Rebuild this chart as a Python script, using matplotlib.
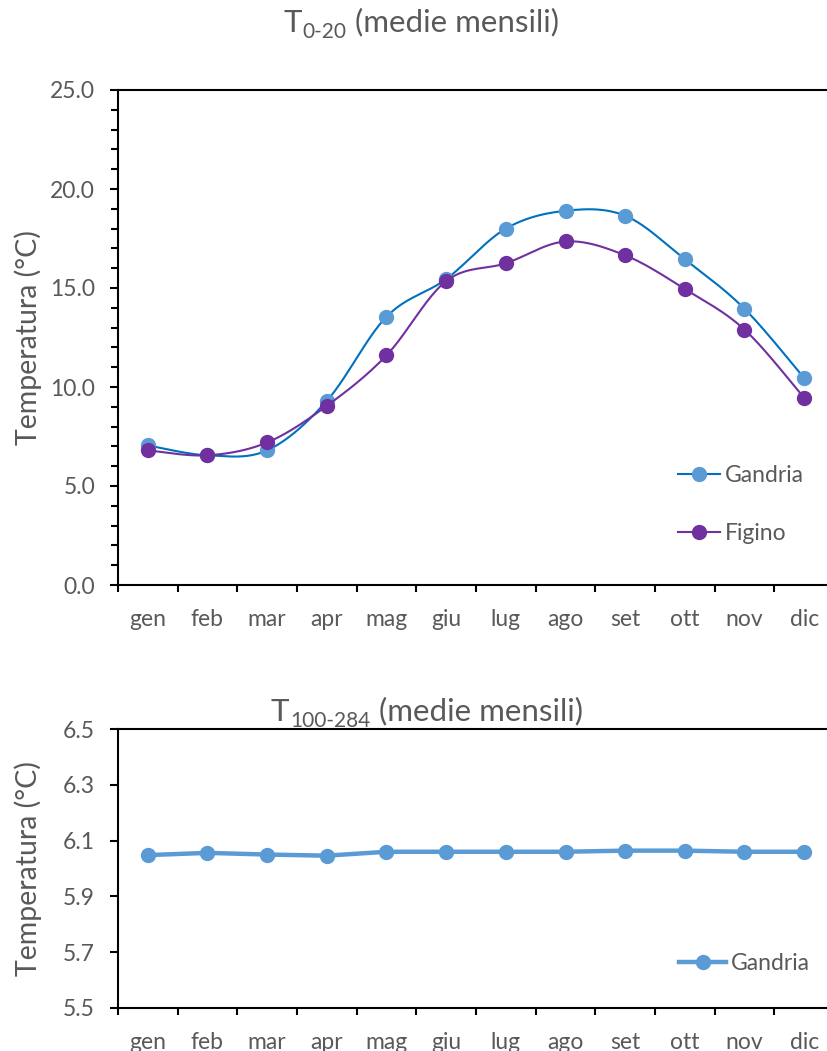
import numpy as np
import matplotlib
matplotlib.use('Agg')
import matplotlib.pyplot as plt
from matplotlib.lines import Line2D
from matplotlib.ticker import MultipleLocator, FixedLocator, NullFormatter, FormatStrFormatter

plt.rcParams['font.family'] = ['Lato', 'DejaVu Sans']

# Data (monthly means)
months = ['gen', 'feb', 'mar', 'apr', 'mag', 'giu', 'lug', 'ago', 'set', 'ott', 'nov', 'dic']
gandria_0_20 = [7.05, 6.55, 6.8, 9.3, 13.55, 15.45, 18.0, 18.9, 18.65, 16.45, 13.95, 10.45]
figino_0_20 = [6.8, 6.55, 7.2, 9.05, 11.6, 15.35, 16.25, 17.35, 16.65, 14.95, 12.9, 9.45]
gandria_100_284 = [6.048, 6.056, 6.050, 6.046, 6.060, 6.060, 6.060, 6.060, 6.064, 6.064, 6.060, 6.060]

grey = '#595959'
blue_line = '#0070C0'
blue_mark = '#5B9BD5'
purple = '#7030A0'


def smooth(y, n=25):
    # Excel-like smoothed line: cubic Bezier through the points (Catmull-Rom)
    pts = np.column_stack([np.arange(len(y)), y]).astype(float)
    ext = np.vstack([pts[0], pts, pts[-1]])
    t = np.linspace(0, 1, n)[:, None]
    out = []
    for i in range(len(pts) - 1):
        p0, p1, p2, p3 = ext[i], ext[i + 1], ext[i + 2], ext[i + 3]
        c1 = p1 + (p2 - p0) / 6
        c2 = p2 - (p3 - p1) / 6
        seg = (1 - t) ** 3 * p1 + 3 * (1 - t) ** 2 * t * c1 + 3 * (1 - t) * t ** 2 * c2 + t ** 3 * p2
        out.append(seg if i == 0 else seg[1:])
    out = np.vstack(out)
    return out[:, 0], out[:, 1]


def style_axes(ax):
    for s in ['left', 'bottom', 'top']:
        ax.spines[s].set_linewidth(1.5)
        ax.spines[s].set_color('black')
    ax.spines['right'].set_visible(False)
    ax.set_xlim(-0.5, len(months) - 0.5)
    ax.xaxis.set_major_locator(FixedLocator(np.arange(-0.5, len(months), 1.0)))
    ax.xaxis.set_major_formatter(NullFormatter())
    ax.xaxis.set_minor_locator(FixedLocator(np.arange(len(months))))
    ax.set_xticklabels(months, minor=True)
    ax.tick_params(axis='x', which='major', direction='out', length=5, width=1.5, color='black')
    ax.tick_params(axis='x', which='minor', length=0, pad=17, labelsize=16.5, labelcolor=grey)
    ax.tick_params(axis='y', which='both', direction='out', width=1.5, color='black',
                   labelsize=16.5, labelcolor=grey, pad=11)
    ax.tick_params(axis='y', which='major', length=5.5)
    ax.tick_params(axis='y', which='minor', length=5)
    ax.set_ylabel('Temperatura (°C)', fontsize=20.5, color=grey)
    ax.yaxis.set_label_coords(-0.106, 0.5)


def title_with_sub(fig, ax, x, y, main, sub, rest):
    t = fig.text(x, y, main, fontsize=22.5, color=grey, ha='left', va='baseline')
    s = ax.annotate(sub, xy=(1, 0), xycoords=t, xytext=(0.5, -3.5), textcoords='offset points',
                    fontsize=15, color=grey, ha='left', va='bottom', annotation_clip=False)
    ax.annotate(rest, xy=(1, 0), xycoords=s, xytext=(6, 3.5), textcoords='offset points',
                fontsize=22.5, color=grey, ha='left', va='bottom', annotation_clip=False)


fig = plt.figure(figsize=(8.28, 10.51), dpi=100)
ax1 = fig.add_axes([118 / 828, 1 - 585 / 1051, 716 / 828, 495 / 1051])
ax2 = fig.add_axes([118 / 828, 1 - 1008 / 1051, 716 / 828, 279 / 1051])

x = np.arange(len(months))

# Top chart: T 0-20
sx, sy = smooth(gandria_0_20)
ax1.plot(sx, sy, color=blue_line, lw=1.5, zorder=3)
ax1.plot(x, gandria_0_20, 'o', ms=10, mfc=blue_mark, mec=blue_mark, zorder=4)
sx, sy = smooth(figino_0_20)
ax1.plot(sx, sy, color=purple, lw=1.5, zorder=5)
ax1.plot(x, figino_0_20, 'o', ms=10, mfc=purple, mec=purple, zorder=6)

style_axes(ax1)
ax1.set_ylim(0, 25)
ax1.yaxis.set_major_locator(MultipleLocator(5))
ax1.yaxis.set_minor_locator(MultipleLocator(1))
ax1.yaxis.set_major_formatter(FormatStrFormatter('%.1f'))

h1 = [Line2D([], [], color=blue_line, lw=1.5, marker='o', ms=10, mfc=blue_mark, mec=blue_mark),
      Line2D([], [], color=purple, lw=1.5, marker='o', ms=10, mfc=purple, mec=purple)]
leg = ax1.legend(h1, ['Gandria', 'Figino'], loc='center left', bbox_to_anchor=(0.782, 0.163),
                 frameon=False, fontsize=16.5, handlelength=1.85, handletextpad=0.2,
                 labelspacing=1.6, borderpad=0, borderaxespad=0)
for txt in leg.get_texts():
    txt.set_color(grey)

# Bottom chart: T 100-284
ax2.plot(x, gandria_100_284, '-o', color=blue_mark, lw=3.2, ms=10, mfc=blue_mark, mec=blue_mark)
style_axes(ax2)
ax2.set_ylim(5.5, 6.5)
ax2.yaxis.set_major_locator(FixedLocator([5.5, 5.7, 5.9, 6.1, 6.3, 6.5]))
ax2.yaxis.set_major_formatter(FormatStrFormatter('%.1f'))

h2 = [Line2D([], [], color=blue_mark, lw=3.2, marker='o', ms=10, mfc=blue_mark, mec=blue_mark)]
leg2 = ax2.legend(h2, ['Gandria'], loc='center left', bbox_to_anchor=(0.784, 0.16),
                  frameon=False, fontsize=16.5, handlelength=2.05, handletextpad=0.2,
                  borderpad=0, borderaxespad=0)
for txt in leg2.get_texts():
    txt.set_color(grey)

title_with_sub(fig, ax1, 283 / 828, 1 - 31.7 / 1051, 'T', '0-20', '(medie mensili)')
title_with_sub(fig, ax2, 271 / 828, 1 - 720.7 / 1051, 'T', '100-284', '(medie mensili)')

fig.savefig('out.png', dpi=100)
